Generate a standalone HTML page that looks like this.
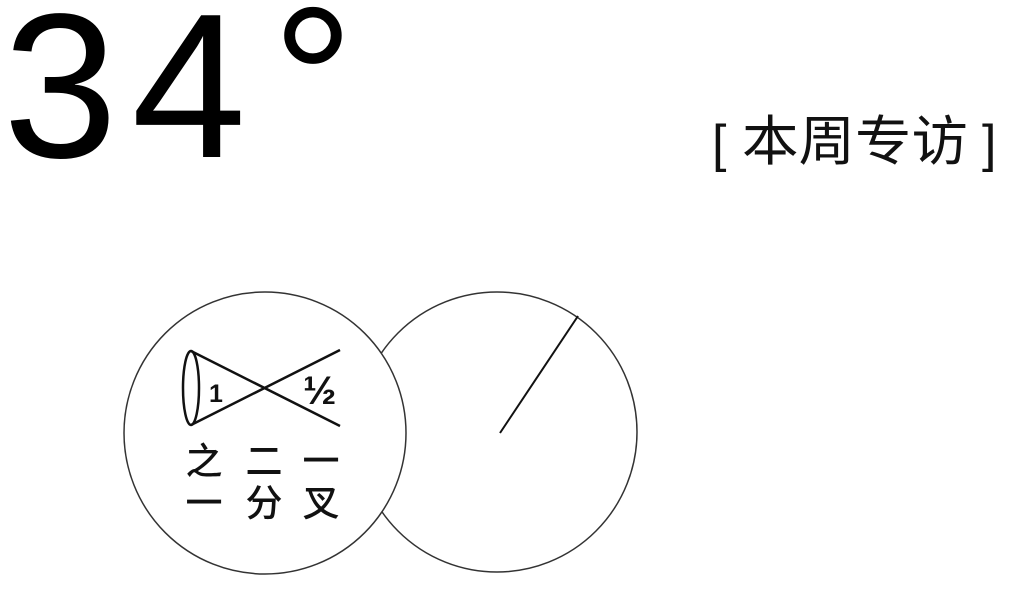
<!DOCTYPE html>
<html><head><meta charset="utf-8"><style>
html,body{margin:0;padding:0;background:#fff;}
body{width:1024px;height:591px;overflow:hidden;}
</style></head><body>
<svg width="1024" height="591" viewBox="0 0 1024 591" xmlns="http://www.w3.org/2000/svg">
<text x="3" y="157" font-family="Liberation Sans, sans-serif" font-size="206" fill="#000" letter-spacing="14">34</text>
<text x="272" y="150" font-family="Liberation Sans, sans-serif" font-size="205" fill="#000">°</text>
<text x="712" y="161" font-family="Liberation Sans, sans-serif" font-size="52" fill="#111">[</text>
<text x="742" y="160" font-family="'Liberation Sans','Noto Sans CJK SC',sans-serif" font-size="54" fill="#111" textLength="226" lengthAdjust="spacingAndGlyphs">本周专访</text>
<text x="982" y="161" font-family="Liberation Sans, sans-serif" font-size="52" fill="#111">]</text>
<circle cx="497" cy="432" r="140" fill="none" stroke="#333" stroke-width="1.5"/>
<line x1="500" y1="433" x2="578" y2="316" stroke="#111" stroke-width="2"/>
<circle cx="265" cy="433" r="141" fill="#fff" stroke="#333" stroke-width="1.5"/>
<ellipse cx="191" cy="388" rx="8" ry="37" fill="none" stroke="#111" stroke-width="2.5"/>
<line x1="191" y1="351" x2="340" y2="426" stroke="#111" stroke-width="2.5"/>
<line x1="191" y1="425" x2="340" y2="350" stroke="#111" stroke-width="2.5"/>
<text x="209" y="402" font-family="Liberation Sans, sans-serif" font-size="25" font-weight="bold" fill="#111">1</text>
<text x="303" y="404" font-family="'Liberation Sans','DejaVu Sans',sans-serif" font-size="40" font-weight="bold" fill="#111">½</text>
<g font-family="'Liberation Sans','Noto Sans CJK SC',sans-serif" font-size="37" font-weight="500" fill="#111" text-anchor="middle">
<text x="204" y="474">之</text><text x="264" y="474">二</text><text x="321" y="474">一</text>
<text x="204" y="516">一</text><text x="264" y="516">分</text><text x="321" y="516">叉</text>
</g>
</svg>
</body></html>
